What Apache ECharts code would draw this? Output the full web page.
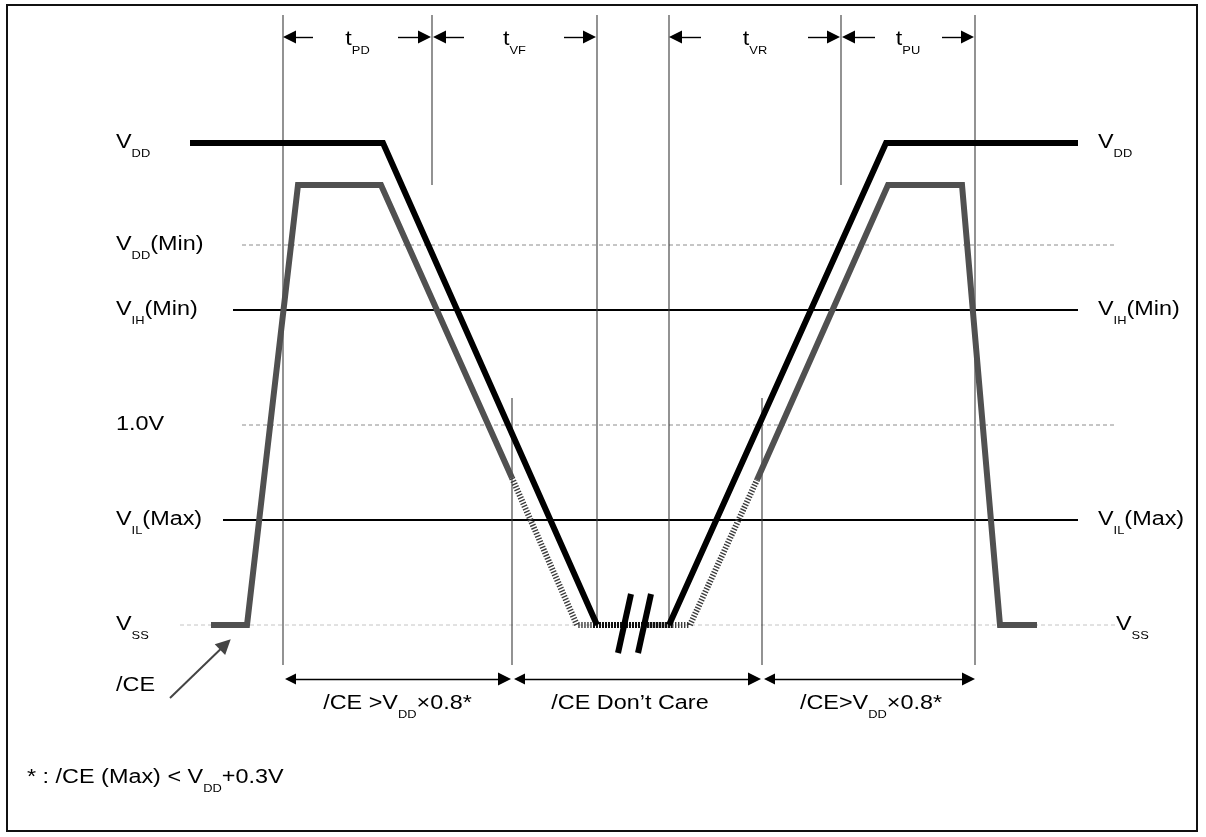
<!DOCTYPE html>
<html><head><meta charset="utf-8">
<script src="https://cdn.jsdelivr.net/npm/echarts@6/dist/echarts.min.js"></script>
<style>html,body{margin:0;padding:0;background:#fff}#c{width:1206px;height:837px}</style>
</head><body><div id="c"></div>
<script>
// ---- voltage levels (V), VSS = 0, 1.0 V reference ----
const VDD = 2.41;
const CE_HIGH = 2.2;
const VDD_MIN = 1.9;
const VIH_MIN = 1.575;
const V_1 = 1.0;
const VIL_MAX = 0.525;
const VSS = 0;

// ---- reference level lines: [time, level] ----
const vssLine = [[180, VSS], [1115, VSS]];
const vddMinLine = [[242, VDD_MIN], [1115, VDD_MIN]];
const v1Line = [[242, V_1], [1115, V_1]];
const vihLine = [[233, VIH_MIN], [1078, VIH_MIN]];
const vilLine = [[223, VIL_MAX], [1078, VIL_MAX]];

// ---- timing marker lines ----
const timeLineX = [283, 432, 597, 669, 841, 975, 512, 762];
const timeLineTop = [3.05, 3.05, 3.05, 3.05, 3.05, 3.05, 1.135, 1.135];
const timeLineBottom = [-0.2, 2.2, 0, 0, 2.2, -0.2, -0.2, -0.2];

// ---- VDD waveform (black) ----
const vddFall = [[190, VDD], [383, VDD], [597, VSS]];
const vddRise = [[669, VSS], [886, VDD], [1078, VDD]];
const vddBottomHatch = [[593, VSS], [672, VSS]];
const breakMarkA = [[631, 0.155], [618, -0.14]];
const breakMarkB = [[651, 0.155], [638, -0.14]];

// ---- /CE waveform (gray) ----
const ceSolidLeft = [[211, VSS], [247, VSS], [298, CE_HIGH], [381, CE_HIGH], [512, 0.735]];
const ceHatchLeft = [[512, 0.735], [577, VSS], [620, VSS]];
const ceHatchRight = [[645, VSS], [690, VSS], [757, 0.725]];
const ceSolidRight = [[757, 0.725], [888, CE_HIGH], [962, CE_HIGH], [1000, VSS], [1037, VSS]];

// ---- timing arrows: [tail, tip] ----
const topArrowV = 2.94;
const topArrows = [[313, 283], [398, 431], [464, 433], [564, 596], [701, 669], [808, 840], [875, 842], [942, 974]];
const topLabels = ['t_{PD}', 't_{VF}', 't_{VR}', 't_{PU}'];
const bottomArrowV = -0.27;
const bottomSpans = [[284, 511], [513, 761], [763, 975]];
const bottomLabels = ['/CE >V_{DD}×0.8*', '/CE Don’t Care', '/CE>V_{DD}×0.8*'];
const cePointer = [[170, -0.365], [230, -0.075]];

// ---- level labels ----
const leftLabels = ['V_{DD}', 'V_{DD}(Min)', 'V_{IH}(Min)', '1.0V', 'V_{IL}(Max)', 'V_{SS}'];
const leftLabelLevels = [VDD, VDD_MIN, VIH_MIN, V_1, VIL_MAX, VSS];
const rightLabels = ['V_{DD}', 'V_{IH}(Min)', 'V_{IL}(Max)', 'V_{SS}'];
const rightLabelLevels = [VDD, VIH_MIN, VIL_MAX, VSS];
const footnote = '* : /CE (Max) < V_{DD}+0.3V';

const chart = echarts.init(document.getElementById('c'));
const FONT = '"Liberation Sans", Arial, sans-serif';
const HEAD = 13; // arrow head length in px (symbol is centred on the end point)

function lineSeries(data, color, width, type, z) {
  return {
    type: 'line', data: data, symbol: 'none', silent: true, animation: false, z: z || 2,
    lineStyle: { color: color, width: width, type: type || 'solid', cap: 'butt', join: 'miter' }
  };
}
// move an arrow end inward by half the head so the tip lands on the point
function inset(from, to, yScale) {
  const dx = to[0] - from[0], dy = (to[1] - from[1]) * yScale;
  const len = Math.sqrt(dx * dx + dy * dy);
  const k = (HEAD / 2) / len;
  return [to[0] - dx * k, to[1] - (dy * k) / yScale];
}
const Y_PX_PER_V = 200;

const series = [];
series.push(lineSeries(vssLine, '#c4c4c4', 1, [4, 3], 1));
series.push(lineSeries(vddMinLine, '#8c8c8c', 1, [4, 3], 1));
series.push(lineSeries(v1Line, '#8c8c8c', 1, [4, 3], 1));
series.push(lineSeries(vihLine, '#000', 2, 'solid', 1));
series.push(lineSeries(vilLine, '#000', 2, 'solid', 1));
timeLineX.forEach(function (x, i) {
  series.push(lineSeries([[x, timeLineTop[i]], [x, timeLineBottom[i]]], '#3a3a3a', 1.1, 'solid', 1));
});
series.push(lineSeries(ceHatchLeft, '#3c3c3c', 6, [1.4, 1.6], 3));
series.push(lineSeries(ceHatchRight, '#3c3c3c', 6, [1.4, 1.6], 3));
series.push(lineSeries(ceSolidLeft, '#505050', 6, 'solid', 3));
series.push(lineSeries(ceSolidRight, '#505050', 6, 'solid', 3));
series.push(lineSeries(vddBottomHatch, '#111', 6, [2, 1], 4));
series.push(lineSeries(vddFall, '#000', 6, 'solid', 5));
series.push(lineSeries(vddRise, '#000', 6, 'solid', 5));
series.push(lineSeries(breakMarkA, '#000', 6, 'solid', 6));
series.push(lineSeries(breakMarkB, '#000', 6, 'solid', 6));

series.push({
  type: 'lines', coordinateSystem: 'cartesian2d', silent: true, animation: false, z: 6,
  symbol: ['none', 'triangle'], symbolSize: [11, HEAD],
  lineStyle: { color: '#000', width: 1.4, opacity: 1 },
  data: topArrows.map(function (a) {
    const from = [a[0], topArrowV], to = [a[1], topArrowV];
    return { coords: [from, inset(from, to, Y_PX_PER_V)] };
  })
});
series.push({
  type: 'lines', coordinateSystem: 'cartesian2d', silent: true, animation: false, z: 6,
  symbol: ['triangle', 'triangle'], symbolSize: [11, HEAD],
  lineStyle: { color: '#000', width: 1.4, opacity: 1 },
  data: bottomSpans.map(function (s) {
    const a = [s[0], bottomArrowV], b = [s[1], bottomArrowV];
    return { coords: [inset(b, a, Y_PX_PER_V), inset(a, b, Y_PX_PER_V)] };
  })
});
series.push({
  type: 'lines', coordinateSystem: 'cartesian2d', silent: true, animation: false, z: 6,
  symbol: ['none', 'triangle'], symbolSize: [13, 15],
  lineStyle: { color: '#444', width: 2, opacity: 1 },
  data: [{ coords: [cePointer[0], inset(cePointer[0], cePointer[1], Y_PX_PER_V)] }]
});

chart.setOption({
  animation: false,
  grid: { left: 0, right: 0, top: 0, bottom: 0 },
  xAxis: { type: 'value', min: 0, max: 1206, show: false },
  yAxis: { type: 'value', min: -1.06, max: 3.125, show: false },
  series: series
});

// ---- text labels (rich text with subscripts) ----
const RICH = {
  m: { fontSize: 20, fontFamily: FONT, color: '#000', verticalAlign: 'bottom', padding: [0, 0, 7, 0] },
  s: { fontSize: 11, fontFamily: FONT, color: '#000', verticalAlign: 'bottom' }
};
function rich(str) {
  return str.split(/(_\{[^}]*\})/).filter(function (p) { return p.length; }).map(function (p) {
    if (p.indexOf('_{') === 0) return '{s|' + p.slice(2, -1) + '}';
    return '{m|' + p + '}';
  }).join('');
}
const SX = 1.17;
function label(text, x, y, align) {
  return {
    type: 'text', x: x, y: y, scaleX: SX, silent: true, z: 10,
    style: { x: 0, y: 0, text: rich(text), align: align, verticalAlign: 'middle', fontFamily: FONT, rich: RICH }
  };
}
function py(v) { return chart.convertToPixel({ gridIndex: 0 }, [0, v])[1]; }
function px(t) { return chart.convertToPixel({ gridIndex: 0 }, [t, 0])[0]; }

const g = [];
g.push({ type: 'rect', shape: { x: 7, y: 5, width: 1190, height: 826 }, style: { fill: 'none', stroke: '#111', lineWidth: 2 }, silent: true, z: 0 });
leftLabels.forEach(function (t, i) { g.push(label(t, 116, py(leftLabelLevels[i]) + 3, 'left')); });
rightLabels.forEach(function (t, i) {
  g.push(label(t, t === 'V_{SS}' ? 1116 : 1098, py(rightLabelLevels[i]) + 3, 'left'));
});
g.push(label('/CE', 116, 689, 'left'));
const topMarks = [283, 432, 597, 669, 841, 975];
const topMid = [[0, 1], [1, 2], [3, 4], [4, 5]];
topLabels.forEach(function (t, i) {
  const a = topMarks[topMid[i][0]], b = topMarks[topMid[i][1]];
  g.push(label(t, px((a + b) / 2), 43, 'center'));
});
const bottomShift = [0, -7, 2];
bottomLabels.forEach(function (t, i) {
  g.push(label(t, px((bottomSpans[i][0] + bottomSpans[i][1]) / 2) + bottomShift[i], 707, 'center'));
});
g.push(label(footnote, 27, 781, 'left'));

chart.setOption({ graphic: g });
</script>
</body></html>
